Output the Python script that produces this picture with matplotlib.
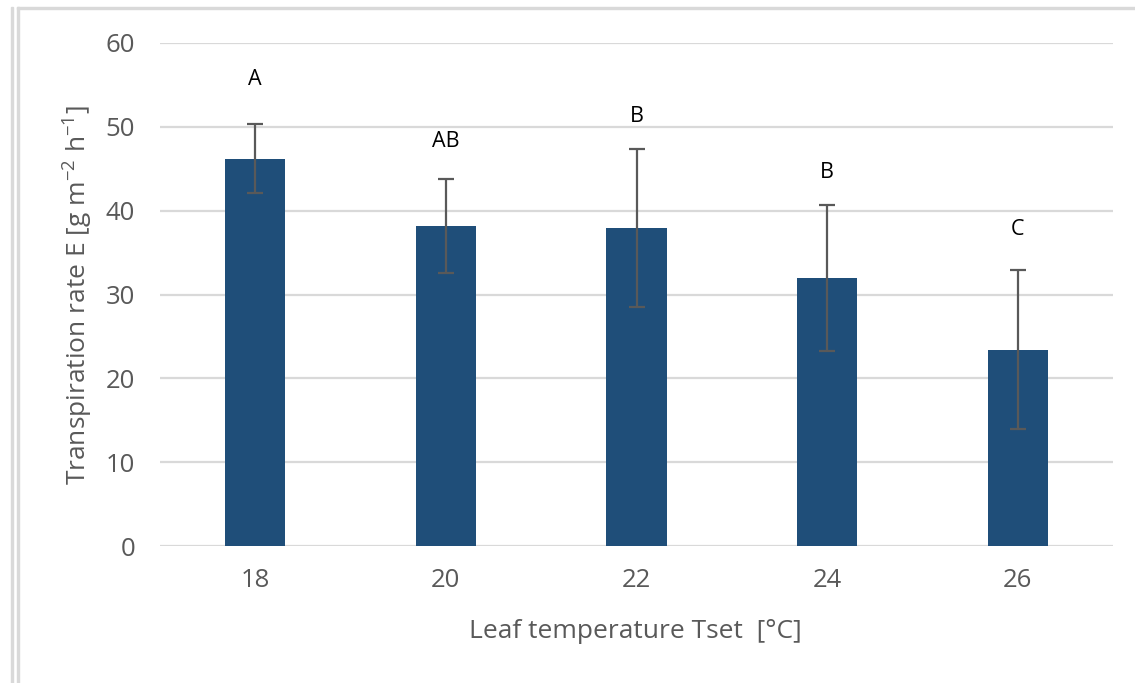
import matplotlib
matplotlib.use("Agg")
import matplotlib.pyplot as plt
from matplotlib.patches import Rectangle
import numpy as np

categories = ["18", "20", "22", "24", "26"]
means = [46.2, 38.2, 37.9, 32.0, 23.4]
errors = [4.1, 5.6, 9.45, 8.7, 9.5]
letters = ["A", "AB", "B", "B", "C"]
letter_y = [55.7, 48.3, 51.2, 44.6, 37.7]
yticks = [0, 10, 20, 30, 40, 50, 60]

plt.rcParams['font.family'] = ['Open Sans', 'DejaVu Sans']
plt.rcParams['mathtext.default'] = 'regular'

W, H = 1135, 683
fig = plt.figure(figsize=(W / 100, H / 100), dpi=100)
ax = fig.add_axes([160 / W, 1 - 546 / H, (1113 - 160) / W, (546 - 43) / H])

x = np.arange(len(categories))
ax.bar(x, means, width=0.315, color="#1F4E79", zorder=3)
ax.errorbar(x, means, yerr=errors, fmt="none", ecolor="#595959",
            elinewidth=1.6, capsize=5.5, capthick=1.6, zorder=4)
for xi, t, ly in zip(x, letters, letter_y):
    ax.text(xi, ly, t, ha="center", va="center", fontsize=15.5, color="#000000")

ax.set_xlim(-0.5, len(categories) - 0.5)
ax.set_ylim(0, 60)
ax.set_yticks(yticks)
ax.set_xticks(x)
ax.set_xticklabels(categories)
ax.yaxis.grid(True, color="#D9D9D9", linewidth=1.6, zorder=0)
ax.set_axisbelow(True)
for s in ax.spines.values():
    s.set_visible(False)
ax.tick_params(axis="both", length=0, labelsize=18.5, labelcolor="#595959")
ax.tick_params(axis="y", pad=18)
ax.tick_params(axis="x", pad=16)

fig.text(635 / W, 1 - 632 / H, "Leaf temperature Tset  [°C]", ha="center", va="center",
         fontsize=19, color="#595959")
fig.text(78 / W, 1 - 295 / H, "Transpiration rate E [g m$^{-2}$ h$^{-1}$]", ha="center",
         va="center", rotation=90, fontsize=19, color="#595959")

# frame lines
fig.patches.append(Rectangle((17 / W, 1 - 9 / H), 1, 2 / H, transform=fig.transFigure,
                             color="#D9D9D9", zorder=0))
fig.patches.append(Rectangle((11 / W, 0), 2 / W, 1 - 7 / H, transform=fig.transFigure,
                             color="#D9D9D9", zorder=0))
fig.patches.append(Rectangle((17 / W, 0), 2 / W, 1 - 7 / H, transform=fig.transFigure,
                             color="#D9D9D9", zorder=0))

fig.savefig("out.png", dpi=100)
